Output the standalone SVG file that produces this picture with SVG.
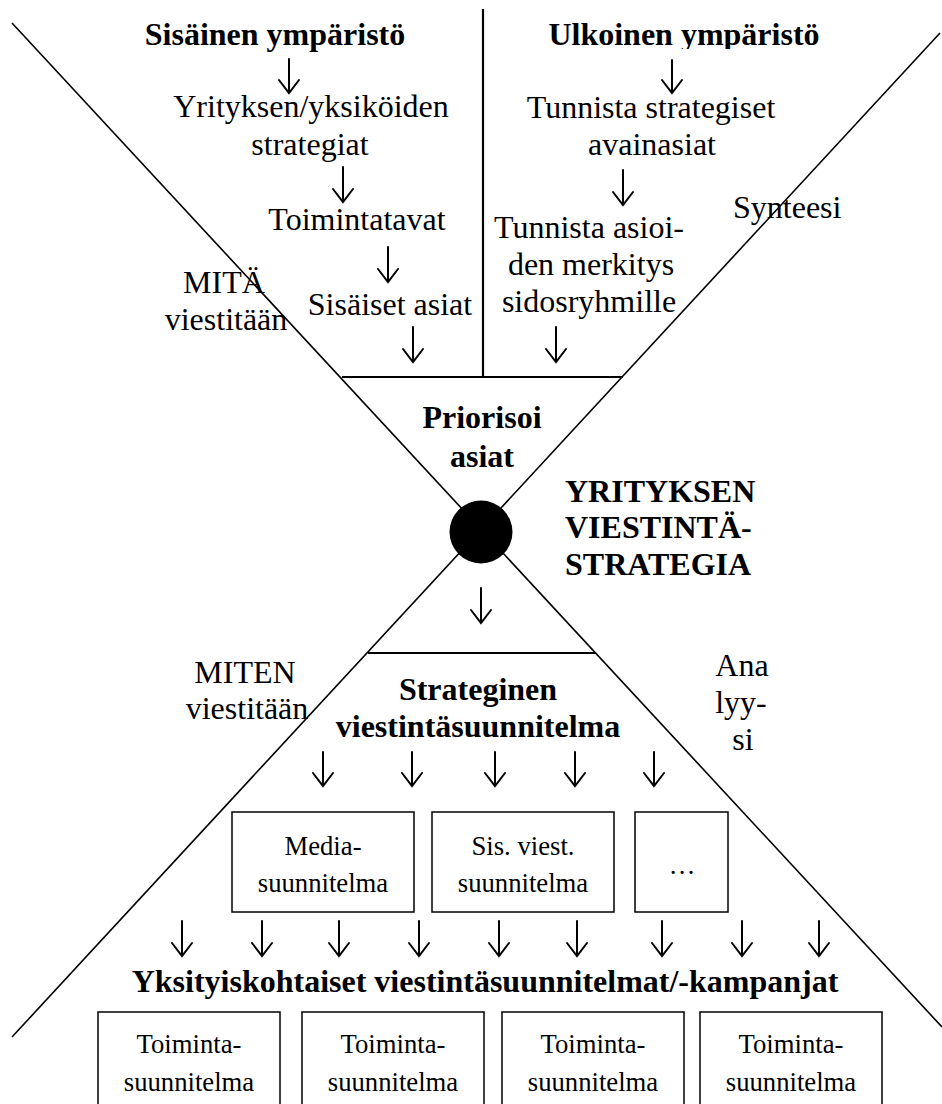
<svg xmlns="http://www.w3.org/2000/svg" width="942" height="1104" viewBox="0 0 942 1104">
<style>
text{font-family:"Liberation Serif","DejaVu Serif",serif;fill:#000;text-anchor:middle}
.r{font-size:32px}
.b{font-size:32px;font-weight:bold}
.s{font-size:26.7px}
.st{text-anchor:start}
.ln{stroke:#000;stroke-width:1.6;fill:none}
.hl{stroke:#000;stroke-width:2.2;fill:none}
.box{stroke:#000;stroke-width:1.5;fill:#fff}
.ar{stroke:#000;stroke-width:2;fill:none;stroke-linecap:round;stroke-linejoin:miter}
</style>
<defs>
<clipPath id="clipU"><rect x="500" y="0" width="400" height="49"/></clipPath>
</defs>
<rect width="942" height="1104" fill="#fff"/>
<g id="frame">
<line class="ln" x1="12" y1="23" x2="942" y2="1027"/>
<line class="ln" x1="940" y1="33" x2="12" y2="1037"/>
<line class="hl" x1="483" y1="9" x2="483" y2="377"/>
<line class="hl" x1="342" y1="377" x2="623" y2="377"/>
<line class="hl" x1="368" y1="653" x2="595" y2="653"/>
<circle cx="481" cy="532" r="31.5" fill="#000"/>
</g>
<g id="connectors">
<path class="ar" d="M289 59V93M279 80L289 93L299 80"/>
<path class="ar" d="M343 167V202M333 189L343 202L353 189"/>
<path class="ar" d="M388 247V282M378 269L388 282L398 269"/>
<path class="ar" d="M413 327V362M403 349L413 362L423 349"/>
<path class="ar" d="M672 60V93M662 80L672 93L682 80"/>
<path class="ar" d="M623 170V205M613 192L623 205L633 192"/>
<path class="ar" d="M556 327V362M546 349L556 362L566 349"/>
<path class="ar" d="M481 588V623M471 610L481 623L491 610"/>
<path class="ar" d="M323 752V786M313 773L323 786L333 773"/>
<path class="ar" d="M412 752V786M402 773L412 786L422 773"/>
<path class="ar" d="M495 752V786M485 773L495 786L505 773"/>
<path class="ar" d="M575 752V786M565 773L575 786L585 773"/>
<path class="ar" d="M654 752V786M644 773L654 786L664 773"/>
<path class="ar" d="M182 921V956M172 943L182 956L192 943"/>
<path class="ar" d="M262 921V956M252 943L262 956L272 943"/>
<path class="ar" d="M339 921V956M329 943L339 956L349 943"/>
<path class="ar" d="M419 921V956M409 943L419 956L429 943"/>
<path class="ar" d="M499 921V956M489 943L499 956L509 943"/>
<path class="ar" d="M577 921V956M567 943L577 956L587 943"/>
<path class="ar" d="M662 921V956M652 943L662 956L672 943"/>
<path class="ar" d="M742 921V956M732 943L742 956L752 943"/>
<path class="ar" d="M819 921V956M809 943L819 956L829 943"/>
</g>
<g id="sisainen">
<text class="b" x="275" y="45">Sisäinen ympäristö</text>
<text class="r" x="311" y="117">Yrityksen/yksiköiden</text>
<text class="r" x="310" y="155">strategiat</text>
<text class="r" x="357" y="230">Toimintatavat</text>
<text class="r" x="390" y="315">Sisäiset asiat</text>
</g>
<g id="ulkoinen">
<text class="b" x="684" y="45" clip-path="url(#clipU)">Ulkoinen ympäristö</text>
<text class="r" x="651" y="118">Tunnista strategiset</text>
<text class="r" x="652" y="155">avainasiat</text>
<text class="r" x="589" y="238">Tunnista asioi-</text>
<text class="r" x="591" y="275">den merkitys</text>
<text class="r" x="589" y="312">sidosryhmille</text>
</g>
<g id="mita">
<text class="r" x="224" y="293">MITÄ</text>
<text class="r" x="226" y="330">viestitään</text>
</g>
<g id="synteesi">
<text class="r st" x="733" y="218">Synteesi</text>
</g>
<g id="priorisoi">
<text class="b" x="482" y="428">Priorisoi</text>
<text class="b" x="482" y="467">asiat</text>
</g>
<g id="strategia">
<text class="b st" x="565" y="502">YRITYKSEN</text>
<text class="b st" x="565" y="538">VIESTINTÄ-</text>
<text class="b st" x="565" y="575">STRATEGIA</text>
</g>
<g id="miten">
<text class="r" x="245" y="683">MITEN</text>
<text class="r" x="247" y="719">viestitään</text>
</g>
<g id="analyysi">
<text class="r" x="742" y="676">Ana</text>
<text class="r" x="741" y="713">lyy-</text>
<text class="r" x="743" y="750">si</text>
</g>
<g id="strateginen">
<text class="b" x="478" y="700">Strateginen</text>
<text class="b" x="478" y="737">viestintäsuunnitelma</text>
</g>
<g id="media">
<rect class="box" x="232" y="812" width="182" height="100"/>
<text class="s" x="323" y="855">Media-</text>
<text class="s" x="323" y="892">suunnitelma</text>
</g>
<g id="sisviest">
<rect class="box" x="432" y="812" width="182" height="100"/>
<text class="s" x="523" y="855">Sis. viest.</text>
<text class="s" x="523" y="892">suunnitelma</text>
</g>
<g id="muut">
<rect class="box" x="635" y="812" width="93" height="100"/>
<text class="s" x="682" y="874">…</text>
</g>
<g id="yksityiskohtaiset">
<text class="b" x="485" y="992">Yksityiskohtaiset viestintäsuunnitelmat/-kampanjat</text>
</g>
<g id="toiminta1">
<rect class="box" x="98" y="1012" width="182" height="110"/>
<text class="s" x="189" y="1053">Toiminta-</text>
<text class="s" x="189" y="1091">suunnitelma</text>
</g>
<g id="toiminta2">
<rect class="box" x="302" y="1012" width="182" height="110"/>
<text class="s" x="393" y="1053">Toiminta-</text>
<text class="s" x="393" y="1091">suunnitelma</text>
</g>
<g id="toiminta3">
<rect class="box" x="502" y="1012" width="182" height="110"/>
<text class="s" x="593" y="1053">Toiminta-</text>
<text class="s" x="593" y="1091">suunnitelma</text>
</g>
<g id="toiminta4">
<rect class="box" x="700" y="1012" width="182" height="110"/>
<text class="s" x="791" y="1053">Toiminta-</text>
<text class="s" x="791" y="1091">suunnitelma</text>
</g>
</svg>
